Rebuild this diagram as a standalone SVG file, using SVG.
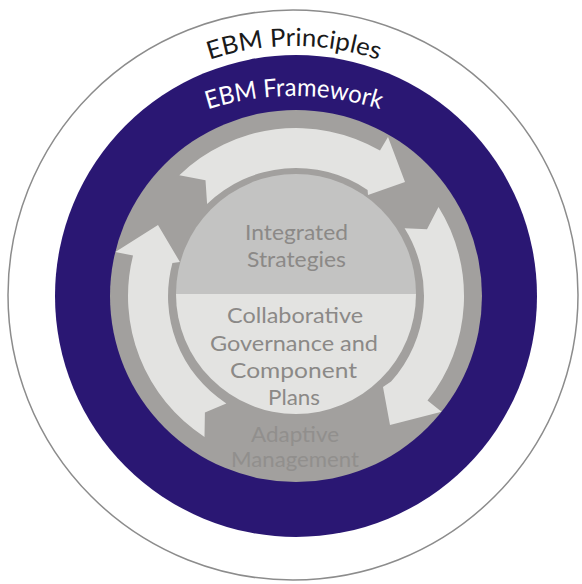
<svg xmlns="http://www.w3.org/2000/svg" width="582" height="584" viewBox="0 0 582 584">
  <style>
    .lbl { font-family: Lato, "Open Sans", "Liberation Sans", sans-serif; text-anchor: middle; }
    .ring-text { font-size: 25px; }
    .center-text { font-size: 22px; fill: #8b8987; }
    .faint { fill: #918f8d; }
    .arrow { fill: #e3e3e1; stroke: none; }
  </style>
  <defs>
    <path id="arcPrinciples" d="M 123.7 108 A 265 265 0 0 1 464.3 108"/>
    <path id="arcFramework" d="M 143 139.3 A 285 285 0 0 1 445 139.3"/>
  </defs>
  <rect x="0" y="0" width="582" height="584" fill="#ffffff"/>

  <g id="principles">
    <circle cx="293" cy="295" r="285" fill="#ffffff" stroke="#8c8c8c" stroke-width="1.5"/>
    <text class="lbl ring-text" fill="#1a1a1a"><textPath href="#arcPrinciples" startOffset="50%" textLength="172" lengthAdjust="spacingAndGlyphs">EBM Principles</textPath></text>
  </g>

  <g id="framework">
    <circle cx="296" cy="296" r="241" fill="#2a1773"/>
    <text class="lbl ring-text" fill="#ffffff"><textPath href="#arcFramework" startOffset="50%" textLength="175" lengthAdjust="spacingAndGlyphs">EBM Framework</textPath></text>
  </g>

  <g id="adaptive-management">
    <circle cx="296" cy="296" r="186" fill="#a2a09e"/>
    <text class="lbl center-text faint" x="295" y="442" textLength="88" lengthAdjust="spacingAndGlyphs">Adaptive</text>
    <text class="lbl center-text faint" x="295" y="467" textLength="128" lengthAdjust="spacingAndGlyphs">Management</text>
  </g>

  <g id="connectors">
    <path id="arrow-top" class="arrow" d="M 179.3 175.2 A 168 168 0 0 1 380 150.5 L 388 137 L 405 182 L 368 195 L 367.6 189.9 A 128 128 0 0 0 207.1 203.9 L 205.5 180.2 Z"/>
    <path id="arrow-right" class="arrow" d="M 438.5 207 A 168 168 0 0 1 427.5 400.6 L 441.6 411.8 L 390 425 L 383 387 L 391.1 381.6 A 128 128 0 0 0 404.6 228.2 L 427 229.3 Z"/>
    <path id="arrow-left" class="arrow" d="M 204.5 436.9 A 168 168 0 0 1 133 255.4 L 115.3 251.9 L 158 225 L 179.9 262 L 172.4 262.9 A 128 128 0 0 0 226.3 403.4 L 204.9 412.6 Z"/>
  </g>

  <g id="integrated-strategies">
    <path d="M 176 294 A 120 120 0 0 1 416 294 Z" fill="#c3c3c2"/>
    <text class="lbl center-text" x="296.5" y="240" textLength="103" lengthAdjust="spacingAndGlyphs">Integrated</text>
    <text class="lbl center-text" x="296.5" y="267" textLength="99" lengthAdjust="spacingAndGlyphs">Strategies</text>
  </g>

  <g id="collaborative-governance">
    <path d="M 176 294 A 120 120 0 0 0 416 294 Z" fill="#e3e3e1"/>
    <text class="lbl center-text" x="295" y="323" textLength="136" lengthAdjust="spacingAndGlyphs">Collaborative</text>
    <text class="lbl center-text" x="294" y="351" textLength="168" lengthAdjust="spacingAndGlyphs">Governance and</text>
    <text class="lbl center-text" x="293.5" y="378" textLength="127" lengthAdjust="spacingAndGlyphs">Component</text>
    <text class="lbl center-text" x="294" y="405" textLength="52" lengthAdjust="spacingAndGlyphs">Plans</text>
  </g>
</svg>
